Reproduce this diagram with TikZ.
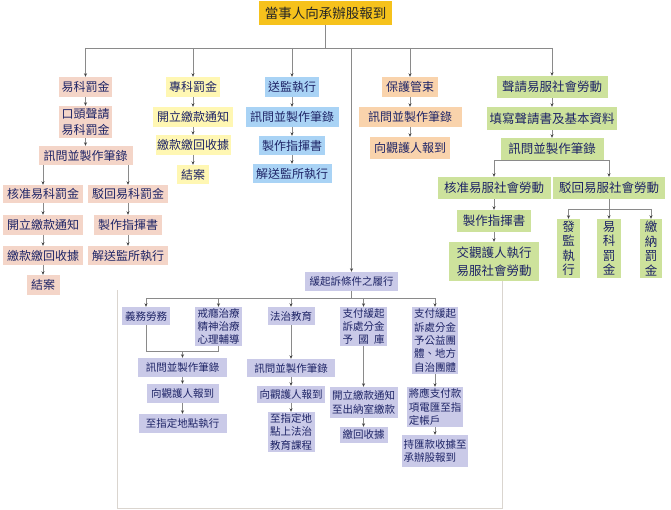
\documentclass[tikz,border=0pt]{standalone}
\usepackage{fontspec}
\newfontfamily\cjk{Noto Sans CJK TC}
\usetikzlibrary{arrows.meta}
\definecolor{goldc}{HTML}{F6C21C}
\definecolor{pinkc}{HTML}{F4D5C8}
\definecolor{yelc}{HTML}{FFF7B3}
\definecolor{bluec}{HTML}{A9D3F5}
\definecolor{peachc}{HTML}{F9D3AC}
\definecolor{greenc}{HTML}{CDE29C}
\definecolor{lavc}{HTML}{CACAE8}
\definecolor{navy}{HTML}{1E2466}
\definecolor{linec}{HTML}{8A8A8A}
\definecolor{tipc}{HTML}{444444}
\definecolor{panelc}{HTML}{DAD5CF}
\tikzset{
  bx/.style={inner sep=0pt, text=navy, align=center, font=\cjk\fontsize{12}{16}\selectfont},
  sz/.style 2 args={minimum width=#1pt, minimum height=#2pt},
  topbox/.style={bx, fill=goldc, text=black!85, font=\cjk\fontsize{13.5}{16}\selectfont},
  pk/.style={bx, fill=pinkc},
  yl/.style={bx, fill=yelc},
  bl/.style={bx, fill=bluec},
  pc/.style={bx, fill=peachc},
  gr/.style={bx, fill=greenc, font=\cjk\fontsize{12.5}{18}\selectfont},
  grv/.style={bx, fill=greenc, font=\cjk\fontsize{12.5}{14.5}\selectfont},
  lv/.style={bx, fill=lavc, font=\cjk\fontsize{10.5}{13.3}\selectfont},
  ln/.style={draw=linec, line width=0.6pt},
  arr/.style={ln, -{Stealth[length=3.5pt,width=3pt,color=tipc]}},
  panel/.style={draw=panelc, line width=0.8pt},
}
\begin{document}
\begin{tikzpicture}[x=1pt,y=-1pt]
\useasboundingbox[fill=white] (0,0) rectangle (671,510);

% faint panel behind the lower part
\coordinate (pa) at (117,290);
\coordinate (pb) at (117,508);
\coordinate (pc) at (502,508);
\coordinate (pd) at (502,281);
\draw[panel] (pa) -- (pb) -- (pc) -- (pd);

% top
\node[topbox, sz={133}{24}] (top) at (325.5,13) {當事人向承辦股報到};

% column 1
\node[pk, sz={53}{20}] (a1) at (85.5,87) {易科罰金};
\node[pk, sz={53}{32}] (a2) at (85.5,122) {口頭聲請\\易科罰金};
\node[pk, sz={94}{19}] (a3) at (85.5,155.5) {訊問並製作筆錄};
\node[pk, sz={80}{18}] (a4) at (43,194) {核准易科罰金};
\node[pk, sz={80}{18}] (a5) at (128,194) {駁回易科罰金};
\node[pk, sz={80}{20}] (a6) at (43,225) {開立繳款通知};
\node[pk, sz={68}{20}] (a7) at (128,225) {製作指揮書};
\node[pk, sz={80}{19}] (a8) at (43,255.5) {繳款繳回收據};
\node[pk, sz={80}{19}] (a9) at (128,255.5) {解送監所執行};
\node[pk, sz={33}{20}] (a10) at (43,285) {結案};

% column 2
\node[yl, sz={54}{20}] (b1) at (193,87) {專科罰金};
\node[yl, sz={80}{20}] (b2) at (193,117) {開立繳款通知};
\node[yl, sz={75}{20}] (b3) at (193,145) {繳款繳回收據};
\node[yl, sz={32}{19}] (b4) at (193,174.5) {結案};

% column 3
\node[bl, sz={54}{20}] (c1) at (292,87) {送監執行};
\node[bl, sz={93}{20}] (c2) at (292,117) {訊問並製作筆錄};
\node[bl, sz={66}{19}] (c3) at (292,145.5) {製作指揮書};
\node[bl, sz={79}{19}] (c4) at (292,173.5) {解送監所執行};

% column 4
\node[pc, sz={56}{20}] (d1) at (410,87) {保護管束};
\node[pc, sz={103}{20}] (d2) at (410,117) {訊問並製作筆錄};
\node[pc, sz={80}{22}] (d3) at (410,148) {向觀護人報到};

% column 5
\node[gr, sz={111}{22}] (e1) at (552,87) {聲請易服社會勞動};
\node[gr, sz={130}{23}] (e2) at (552,118.5) {填寫聲請書及基本資料};
\node[gr, sz={103}{22}] (e3) at (552,149) {訊問並製作筆錄};
\node[gr, sz={113}{22}] (e4) at (494,188) {核准易服社會勞動};
\node[gr, sz={112}{22}] (e5) at (609,188) {駁回易服社會勞動};
\node[gr, sz={74}{22}] (e6) at (494,221) {製作指揮書};
\node[gr, sz={90}{39}] (e7) at (494,261.5) {交觀護人執行\\易服社會勞動};
\node[grv, sz={23}{59}] (e8) at (568.5,248.5) {發\\監\\執\\行};
\node[grv, sz={24}{59}] (e9) at (609,248.5) {易\\科\\罰\\金};
\node[grv, sz={22}{59}] (e10) at (651,248.5) {繳\\納\\罰\\金};

% lower part
\node[lv, sz={93}{19}] (h) at (351.5,281.5) {緩起訴條件之履行};
\node[lv, sz={48}{18}] (g1) at (146,316) {義務勞務};
\node[lv, sz={47}{39}] (g2) at (218.5,326.5) {戒癮治療\\精神治療\\心理輔導};
\node[lv, sz={47}{18}] (g3) at (291,316) {法治教育};
\node[lv, sz={47}{39}] (g4) at (363.5,326.5) {支付緩起\\訴處分金\\予\hspace{0.5em}國\hspace{0.5em}庫};
\node[lv, sz={46}{67}] (g5) at (435,340.5) {支付緩起\\訴處分金\\予公益團\\體、地方\\自治團體};

\node[lv, sz={89}{19}] (m1) at (182.5,367.5) {訊問並製作筆錄};
\node[lv, sz={72}{19}] (m2) at (182.5,393.5) {向觀護人報到};
\node[lv, sz={88}{19}] (m3) at (182.5,423.5) {至指定地點執行};

\node[lv, sz={88}{18}] (n1) at (291,368) {訊問並製作筆錄};
\node[lv, sz={68}{17}] (n2) at (291,394.5) {向觀護人報到};
\node[lv, sz={47}{40}] (n3) at (291,432) {至指定地\\點上法治\\教育課程};

\node[lv, sz={68}{31}] (p1) at (363.5,402.5) {開立繳款通知\\至出納室繳款};
\node[lv, sz={48}{16}] (p2) at (363.5,435) {繳回收據};

\node[lv, sz={56}{40}, align=left] (q1) at (435,407) {將應支付款\\項電匯至指\\定帳戶};
\node[lv, sz={66}{32}, align=left] (q2) at (435,451) {持匯款收據至\\承辦股報到};

% ---- connectors ----
% top bus
\coordinate (bus) at (325.5,48);
\draw[ln] (top.south) -- (bus);
\draw[ln] (a1.north |- bus) -- (e1.north |- bus);
\foreach \n in {a1,b1,c1,h,d1,e1} \draw[arr] (\n.north |- bus) -- (\n.north);

% column 1
\draw[arr] (a1.south) -- (a2.north);
\draw[arr] (a2.south) -- (a3.north);
\draw[arr] (a3.south -| a4.north) -- (a4.north);
\draw[arr] (a3.south -| a5.north) -- (a5.north);
\draw[arr] (a4.south) -- (a6.north);
\draw[arr] (a6.south) -- (a8.north);
\draw[arr] (a8.south) -- (a10.north);
\draw[arr] (a5.south) -- (a7.north);
\draw[arr] (a7.south) -- (a9.north);

% column 2
\draw[arr] (b1.south) -- (b2.north);
\draw[arr] (b2.south) -- (b3.north);
\draw[arr] (b3.south) -- (b4.north);

% column 3
\draw[arr] (c1.south) -- (c2.north);
\draw[arr] (c2.south) -- (c3.north);
\draw[arr] (c3.south) -- (c4.north);

% column 4
\draw[arr] (d1.south) -- (d2.north);
\draw[arr] (d2.south) -- (d3.north);

% column 5
\draw[arr] (e1.south) -- (e2.north);
\draw[arr] (e2.south) -- (e3.north);
\draw[ln] (e3.south -| e4.north) -- (e3.south -| e5.north);
\draw[arr] (e3.south -| e4.north) -- (e4.north);
\draw[arr] (e3.south -| e5.north) -- (e5.north);
\draw[arr] (e4.south) -- (e6.north);
\draw[arr] (e6.south) -- (e7.north);
\coordinate (rb) at (609,209);
\draw[ln] (e5.south) -- (rb);
\draw[ln] (e8.north |- rb) -- (e10.north |- rb);
\foreach \n in {e8,e9,e10} \draw[arr] (\n.north |- rb) -- (\n.north);

% lower bus
\coordinate (lb) at (351.5,298);
\draw[ln] (h.south) -- (lb);
\draw[ln] (g1.north |- lb) -- (g5.north |- lb);
\foreach \n in {g1,g2,g3,g4,g5} \draw[arr] (\n.north |- lb) -- (\n.north);

% merge of first two
\coordinate (mg) at (182.5,351);
\draw[ln] (g1.south) -- (g1.south |- mg) -- (g2.south |- mg) -- (g2.south);
\draw[arr] (mg) -- (m1.north);
\draw[arr] (m1.south) -- (m2.north);
\draw[arr] (m2.south) -- (m3.north);

\draw[arr] (g3.south) -- (n1.north);
\draw[arr] (n1.south) -- (n2.north);
\draw[arr] (n2.south) -- (n3.north);

\draw[arr] (g4.south) -- (p1.north);
\draw[arr] (p1.south) -- (p2.north);

\draw[arr] (g5.south) -- (q1.north);
\draw[arr] (q1.south) -- (q2.north);
\end{tikzpicture}
\end{document}
